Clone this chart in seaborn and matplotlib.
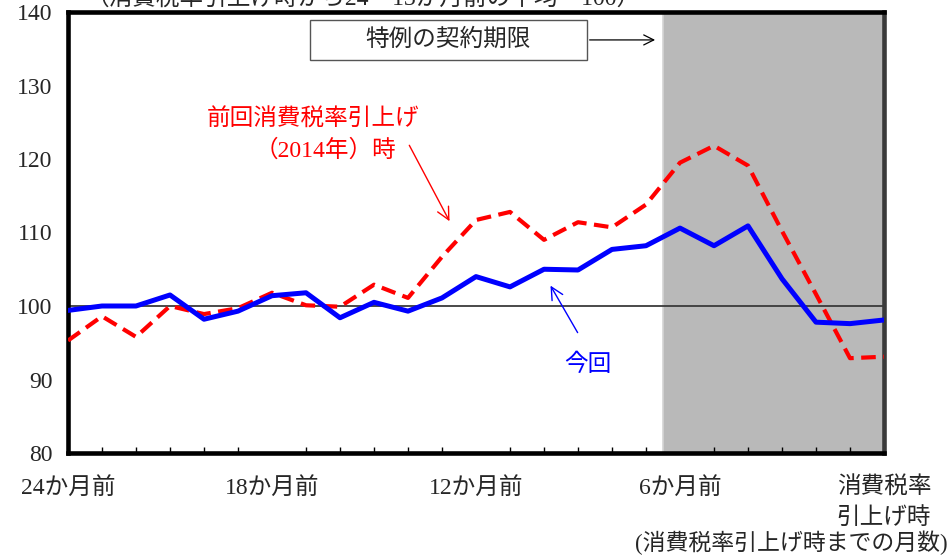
import matplotlib
matplotlib.use("Agg")
import matplotlib.pyplot as plt
import pandas as pd
import seaborn as sns
from matplotlib.patches import Rectangle
from matplotlib.ticker import MultipleLocator

# Months relative to the consumption-tax hike (0 = month of the hike)
months = list(range(-24, 1))

# Index (average of 24-13 months before the hike = 100)
current_hike = [99.4, 100.0, 100.0, 101.5, 98.2, 99.3, 101.4, 101.8, 98.4, 100.5,
                99.3, 101.1, 104.0, 102.6, 105.0, 104.9, 107.7, 108.2, 110.6, 108.2,
                110.9, 103.7, 97.8, 97.6, 98.1]
previous_hike = [95.3, 98.6, 95.8, 100.0, 98.9, 99.7, 101.8, 100.1, 99.9, 102.9,
                 101.1, 106.7, 111.7, 112.8, 109.0, 111.4, 110.7, 113.8, 119.5, 121.8,
                 119.1, 110.2, 101.6, 92.9, 93.1]

tick_positions = [-24, -18, -12, -6, 0]
tick_labels = ["24か月前", "18か月前", "12か月前", "6か月前", "消費税率\n引上げ時"]
y_ticks = [80, 90, 100, 110, 120, 130, 140]

df = pd.DataFrame({"month": months, "current": current_hike, "previous": previous_hike})

sns.set_style("white")
plt.rcParams["font.family"] = ["Liberation Serif", "Noto Sans CJK JP"]
plt.rcParams["font.size"] = 17

fig = plt.figure(figsize=(9.51, 5.55), dpi=100)
ax = fig.add_axes([68 / 951, 1 - 453 / 555, (884 - 68) / 951, (453 - 12) / 555])

# special-contract deadline period
ax.axvspan(-6.5, 0, color="#b9b9b9", zorder=0, lw=0)
ax.axvline(-6.5, color="#d4d4d4", lw=1.2, zorder=0.5)
ax.axhline(100, color="#3a3a3a", lw=1.3, zorder=1)

sns.lineplot(data=df, x="month", y="previous", ax=ax, color="#ff0000",
             linewidth=3.0, zorder=3)
ax.lines[-1].set_dashes([3.5, 1.8])
sns.lineplot(data=df, x="month", y="current", ax=ax, color="#0000ff",
             linewidth=3.6, zorder=4)

ax.set_xlim(-24, 0)
ax.set_ylim(80, 140)
ax.set_xlabel("")
ax.set_ylabel("")

ax.set_xticks(tick_positions)
ax.set_xticklabels(tick_labels, linespacing=1.5)
ax.xaxis.set_minor_locator(MultipleLocator(1))
ax.set_yticks(y_ticks)
ax.tick_params(axis="x", which="both", direction="in", length=4, width=1,
               color="black", pad=17, labelsize=17)
ax.tick_params(axis="y", direction="in", length=5, width=1, color="black",
               pad=11, labelsize=17)
ax.tick_params(axis="x", which="minor", bottom=True)

for side in ["left", "bottom", "top"]:
    ax.spines[side].set_color("black")
    ax.spines[side].set_linewidth(3.3)
ax.spines["right"].set_color("#3a3a3a")
ax.spines["right"].set_linewidth(3.3)

# deadline box with arrow
ax.add_patch(Rectangle((-16.88, 133.47), 8.14, 5.43, facecolor="white",
                       edgecolor="#555555", lw=1.0, zorder=5))
ax.text(-12.82, 136.2, "特例の契約期限", ha="center", va="center", fontsize=17,
        zorder=6)
ax.annotate("", xy=(-6.65, 136.2), xytext=(-8.74, 136.2),
            arrowprops=dict(arrowstyle="->", color="black", lw=0.9,
                            mutation_scale=18), zorder=6)

# series labels
ax.text(-16.79, 125.4, "前回消費税率引上げ", ha="center", va="center",
        color="#ff0000", fontsize=17)
ax.text(-16.44, 121.2, "（2014年）時", ha="center", va="center",
        color="#ff0000", fontsize=17)
ax.annotate("", xy=(-12.74, 111.2), xytext=(-14.0, 122.2),
            arrowprops=dict(arrowstyle="->", color="#ff0000", lw=1.0,
                            mutation_scale=22))

ax.text(-8.7, 92.0, "今回", ha="center", va="center", color="#0000ff",
        fontsize=17)
ax.annotate("", xy=(-9.85, 103.1), xytext=(-8.97, 96.05),
            arrowprops=dict(arrowstyle="->", color="#0000ff", lw=1.0,
                            mutation_scale=22))

fig.text(363 / 951, 1 - 5 / 555, "（消費税率引上げ時から24～13か月前の平均＝100）",
         ha="center", va="baseline", fontsize=17)
fig.text(948 / 951, 1 - 543 / 555, "(消費税率引上げ時までの月数)",
         ha="right", va="center", fontsize=16.5)

fig.savefig("out.png", dpi=100)
